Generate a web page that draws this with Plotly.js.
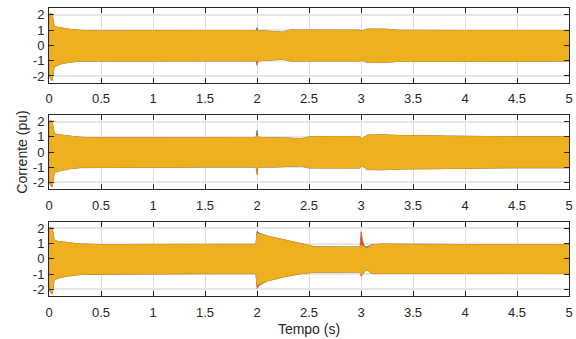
<!DOCTYPE html>
<html>
<head>
<meta charset="utf-8">
<script src="https://cdn.plot.ly/plotly-3.0.1.min.js"></script>
<style>html,body{margin:0;padding:0;background:#fff;}#chart{width:576px;height:339px;}</style>
</head>
<body>
<div id="chart"></div>
<script>
// ---- Panel 1 (top): envelope of the three phase currents (pu) ----
const t1 = [0, 0.004, 0.012, 0.03, 0.04, 0.05, 0.08, 0.13, 0.2, 0.3, 0.45, 0.7, 1.0, 1.5, 1.99, 2.0, 2.01, 2.05, 2.15, 2.25, 2.32, 2.5, 2.99, 3.0, 3.02, 3.06, 3.15, 3.25, 3.35, 3.5, 4.0, 4.5, 5.0];
const p1YellowUp = [0.2, 1.9, 2.08, 2.05, 1.6, 1.25, 1.18, 1.12, 1.05, 0.98, 0.94, 0.95, 0.97, 0.97, 0.97, 1.0, 0.97, 0.95, 0.9, 0.86, 1.0, 1.0, 0.99, 0.92, 0.95, 1.06, 1.07, 1.05, 0.98, 0.97, 0.97, 0.97, 0.97];
const p1YellowLo = [-0.2, -1.9, -2.15, -2.2, -1.8, -1.4, -1.3, -1.18, -1.1, -1.03, -0.99, -1.0, -1.02, -1.02, -1.02, -1.05, -1.02, -1.0, -0.95, -0.9, -1.03, -1.03, -1.03, -0.97, -1.0, -1.12, -1.12, -1.1, -1.05, -1.04, -1.03, -1.03, -1.03];
const p1BlueUp = [0.0, 1.9, 2.05, 2.0, 1.6, 1.25, 1.18, 1.12, 1.05, 0.98, 0.94, 0.95, 0.97, 0.97, 0.97, 1.16, 0.97, 0.95, 0.9, 0.86, 1.0, 1.0, 0.99, 0.92, 0.95, 1.06, 1.07, 1.05, 0.98, 0.97, 0.97, 0.97, 0.97];
const p1BlueLo = [-1.8, -2.0, -2.15, -2.2, -1.8, -1.4, -1.3, -1.18, -1.1, -1.03, -0.99, -1.0, -1.02, -1.02, -1.02, -1.05, -1.02, -1.0, -0.95, -0.9, -1.03, -1.03, -1.03, -1.0, -1.0, -1.12, -1.12, -1.1, -1.05, -1.04, -1.03, -1.03, -1.03];
const p1OrangeUp = [1.9, 2.05, 2.1, 2.05, 1.6, 1.25, 1.18, 1.12, 1.05, 0.98, 0.94, 0.95, 0.97, 0.97, 0.97, 1.0, 0.97, 0.95, 0.9, 0.86, 1.0, 1.0, 0.99, 0.95, 0.95, 1.06, 1.07, 1.05, 0.98, 0.97, 0.97, 0.97, 0.97];
const p1OrangeLo = [0.0, -1.9, -2.15, -2.32, -1.8, -1.4, -1.3, -1.18, -1.1, -1.03, -0.99, -1.0, -1.02, -1.02, -1.02, -1.32, -1.02, -1.0, -0.95, -0.9, -1.03, -1.03, -1.03, -0.97, -1.0, -1.12, -1.12, -1.1, -1.05, -1.04, -1.03, -1.03, -1.03];

// ---- Panel 2 (middle) ----
const t2 = [0, 0.004, 0.012, 0.03, 0.04, 0.05, 0.08, 0.13, 0.2, 0.3, 0.45, 0.7, 1.0, 1.5, 1.99, 2.0, 2.01, 2.05, 2.15, 2.3, 2.42, 2.5, 2.8, 2.99, 3.0, 3.02, 3.06, 3.2, 3.4, 3.7, 4.0, 4.5, 5.0];
const p2YellowUp = [0.2, 1.9, 2.08, 2.05, 1.6, 1.25, 1.15, 1.1, 1.03, 0.97, 0.94, 0.94, 0.95, 0.95, 0.95, 1.1, 0.97, 0.95, 0.95, 0.92, 0.86, 1.0, 1.02, 1.02, 0.85, 0.9, 1.12, 1.13, 1.08, 1.05, 1.03, 1.0, 1.0];
const p2YellowLo = [-0.2, -1.9, -2.15, -2.2, -1.8, -1.4, -1.28, -1.18, -1.1, -1.03, -0.99, -0.99, -0.99, -0.99, -0.99, -1.15, -1.0, -0.99, -0.99, -0.96, -0.92, -1.05, -1.06, -1.06, -0.9, -0.95, -1.16, -1.17, -1.12, -1.09, -1.07, -1.04, -1.04];
const p2BlueUp = [0.0, 1.9, 2.05, 2.0, 1.6, 1.25, 1.15, 1.1, 1.03, 0.97, 0.94, 0.94, 0.95, 0.95, 0.95, 1.42, 0.97, 0.95, 0.95, 0.92, 0.86, 1.0, 1.02, 1.02, 0.85, 0.9, 1.12, 1.13, 1.08, 1.05, 1.03, 1.0, 1.0];
const p2BlueLo = [-1.8, -2.0, -2.15, -2.2, -1.8, -1.4, -1.28, -1.18, -1.1, -1.03, -0.99, -0.99, -0.99, -0.99, -0.99, -1.15, -1.0, -0.99, -0.99, -0.96, -0.92, -1.05, -1.06, -1.06, -0.9, -0.95, -1.16, -1.17, -1.12, -1.09, -1.07, -1.04, -1.04];
const p2OrangeUp = [1.9, 2.05, 2.1, 2.05, 1.6, 1.25, 1.15, 1.1, 1.03, 0.97, 0.94, 0.94, 0.95, 0.95, 0.95, 1.22, 0.97, 0.95, 0.95, 0.92, 0.86, 1.0, 1.02, 1.02, 0.85, 0.9, 1.12, 1.13, 1.08, 1.05, 1.03, 1.0, 1.0];
const p2OrangeLo = [0.0, -1.9, -2.15, -2.32, -1.8, -1.4, -1.28, -1.18, -1.1, -1.03, -0.99, -0.99, -0.99, -0.99, -0.99, -1.5, -1.0, -0.99, -0.99, -0.96, -0.92, -1.05, -1.06, -1.06, -0.9, -0.95, -1.16, -1.17, -1.12, -1.09, -1.07, -1.04, -1.04];

// ---- Panel 3 (bottom) ----
const t3 = [0, 0.004, 0.012, 0.03, 0.04, 0.05, 0.08, 0.13, 0.2, 0.3, 0.45, 0.7, 1.0, 1.5, 1.99, 2.0, 2.02, 2.1, 2.25, 2.4, 2.55, 2.8, 2.99, 3.0, 3.015, 3.04, 3.06, 3.1, 3.2, 3.5, 4.0, 4.5, 5.0];
const p3YellowUp = [0.2, 1.9, 2.08, 2.05, 1.6, 1.25, 1.15, 1.1, 1.03, 0.97, 0.94, 0.94, 0.95, 0.95, 0.95, 1.68, 1.66, 1.5, 1.25, 1.0, 0.8, 0.78, 0.78, 0.9, 0.85, 0.72, 0.7, 0.92, 0.97, 0.95, 0.93, 0.92, 0.92];
const p3YellowLo = [-0.2, -1.9, -2.15, -2.2, -1.8, -1.4, -1.28, -1.18, -1.1, -1.03, -0.99, -0.98, -0.98, -0.97, -0.97, -1.72, -1.7, -1.45, -1.2, -1.0, -0.88, -0.87, -0.87, -1.08, -1.0, -0.78, -0.75, -0.95, -0.99, -0.98, -0.97, -0.96, -0.96];
const p3BlueUp = [0.0, 1.9, 2.05, 2.0, 1.6, 1.25, 1.15, 1.1, 1.03, 0.97, 0.94, 0.94, 0.95, 0.95, 0.95, 1.8, 1.7, 1.5, 1.25, 1.0, 0.8, 0.78, 0.78, 0.9, 0.85, 0.8, 0.8, 0.92, 0.97, 0.95, 0.93, 0.92, 0.92];
const p3BlueLo = [-1.8, -2.0, -2.15, -2.2, -1.8, -1.4, -1.28, -1.18, -1.1, -1.03, -0.99, -0.98, -0.98, -0.97, -0.97, -1.72, -1.7, -1.45, -1.2, -1.0, -0.88, -0.87, -0.87, -1.08, -1.0, -0.78, -0.75, -0.95, -0.99, -0.98, -0.97, -0.96, -0.96];
const p3OrangeUp = [1.9, 2.05, 2.1, 2.05, 1.6, 1.25, 1.15, 1.1, 1.03, 0.97, 0.94, 0.94, 0.95, 0.95, 0.95, 1.68, 1.66, 1.5, 1.25, 1.0, 0.8, 0.78, 0.78, 1.78, 1.2, 0.72, 0.7, 0.92, 0.97, 0.95, 0.93, 0.92, 0.92];
const p3OrangeLo = [0.0, -1.9, -2.15, -2.32, -1.8, -1.4, -1.28, -1.18, -1.1, -1.03, -0.99, -0.98, -0.98, -0.97, -0.97, -1.95, -1.75, -1.45, -1.2, -1.0, -0.88, -0.87, -0.87, -1.15, -1.02, -0.78, -0.75, -0.95, -0.99, -0.98, -0.97, -0.96, -0.96];

const xTickVals = [0, 0.5, 1, 1.5, 2, 2.5, 3, 3.5, 4, 4.5, 5];
const xTickText = ['0', '0.5', '1', '1.5', '2', '2.5', '3', '3.5', '4', '4.5', '5'];
const yTickVals = [-2, -1, 0, 1, 2];
const yTickText = ['-2', '-1', '0', '1', '2'];

const colors = {blue: '#0072BD', orange: '#D95319', yellow: '#EDB120'};

function band(t, up, lo, color, ax) {
  const xs = t.concat(t.slice().reverse());
  const ys = up.concat(lo.slice().reverse());
  return {
    x: xs, y: ys, type: 'scatter', mode: 'lines', fill: 'toself',
    fillcolor: color, line: {color: color, width: 0.6},
    xaxis: 'x' + (ax === 1 ? '' : ax), yaxis: 'y' + (ax === 1 ? '' : ax),
    hoverinfo: 'skip', showlegend: false
  };
}

const data = [
  band(t1, p1BlueUp, p1BlueLo, colors.blue, 1),
  band(t1, p1OrangeUp, p1OrangeLo, colors.orange, 1),
  band(t1, p1YellowUp, p1YellowLo, colors.yellow, 1),
  band(t2, p2BlueUp, p2BlueLo, colors.blue, 2),
  band(t2, p2OrangeUp, p2OrangeLo, colors.orange, 2),
  band(t2, p2YellowUp, p2YellowLo, colors.yellow, 2),
  band(t3, p3BlueUp, p3BlueLo, colors.blue, 3),
  band(t3, p3OrangeUp, p3OrangeLo, colors.orange, 3),
  band(t3, p3YellowUp, p3YellowLo, colors.yellow, 3)
];

const font = {family: 'Liberation Sans, Arial, Helvetica, sans-serif', size: 13, color: '#262626'};

function xax(anchor, withTitle) {
  const a = {
    range: [0, 5], tickvals: xTickVals, ticktext: xTickText,
    ticks: 'inside', ticklen: 5, tickcolor: '#262626', tickwidth: 1,
    showline: true, linecolor: '#262626', linewidth: 1, mirror: 'ticks',
    showgrid: true, gridcolor: '#dadada', gridwidth: 1,
    zeroline: false, anchor: anchor, tickfont: font, ticklabelstandoff: 4
  };
  if (withTitle) a.title = {text: 'Tempo (s)', font: {family: font.family, size: 14, color: '#262626'}, standoff: 5};
  return a;
}
function yax(anchor, domain, withTitle) {
  const a = {
    range: [-2.44, 2.44], domain: domain, tickvals: yTickVals, ticktext: yTickText,
    ticks: 'inside', ticklen: 5, tickcolor: '#262626', tickwidth: 1,
    showline: true, linecolor: '#262626', linewidth: 1, mirror: 'ticks',
    showgrid: true, gridcolor: '#e6e6e6', gridwidth: 2,
    zeroline: false, anchor: anchor, tickfont: font, ticklabelstandoff: 1
  };
  if (withTitle) a.title = {text: 'Corrente (pu)', font: {family: font.family, size: 14, color: '#262626'}, standoff: 1};
  return a;
}

const layout = {
  width: 576, height: 339,
  margin: {l: 49, r: 7, t: 8, b: 43},
  paper_bgcolor: '#ffffff', plot_bgcolor: '#ffffff',
  font: font, showlegend: false,
  xaxis: xax('y', false),
  yaxis: yax('x', [0.7406, 1], false),
  xaxis2: xax('y2', false),
  yaxis2: yax('x2', [0.3715, 0.6285], true),
  xaxis3: xax('y3', true),
  yaxis3: yax('x3', [0, 0.258], false)
};

Plotly.newPlot('chart', data, layout, {staticPlot: true, displayModeBar: false});
</script>
</body>
</html>
